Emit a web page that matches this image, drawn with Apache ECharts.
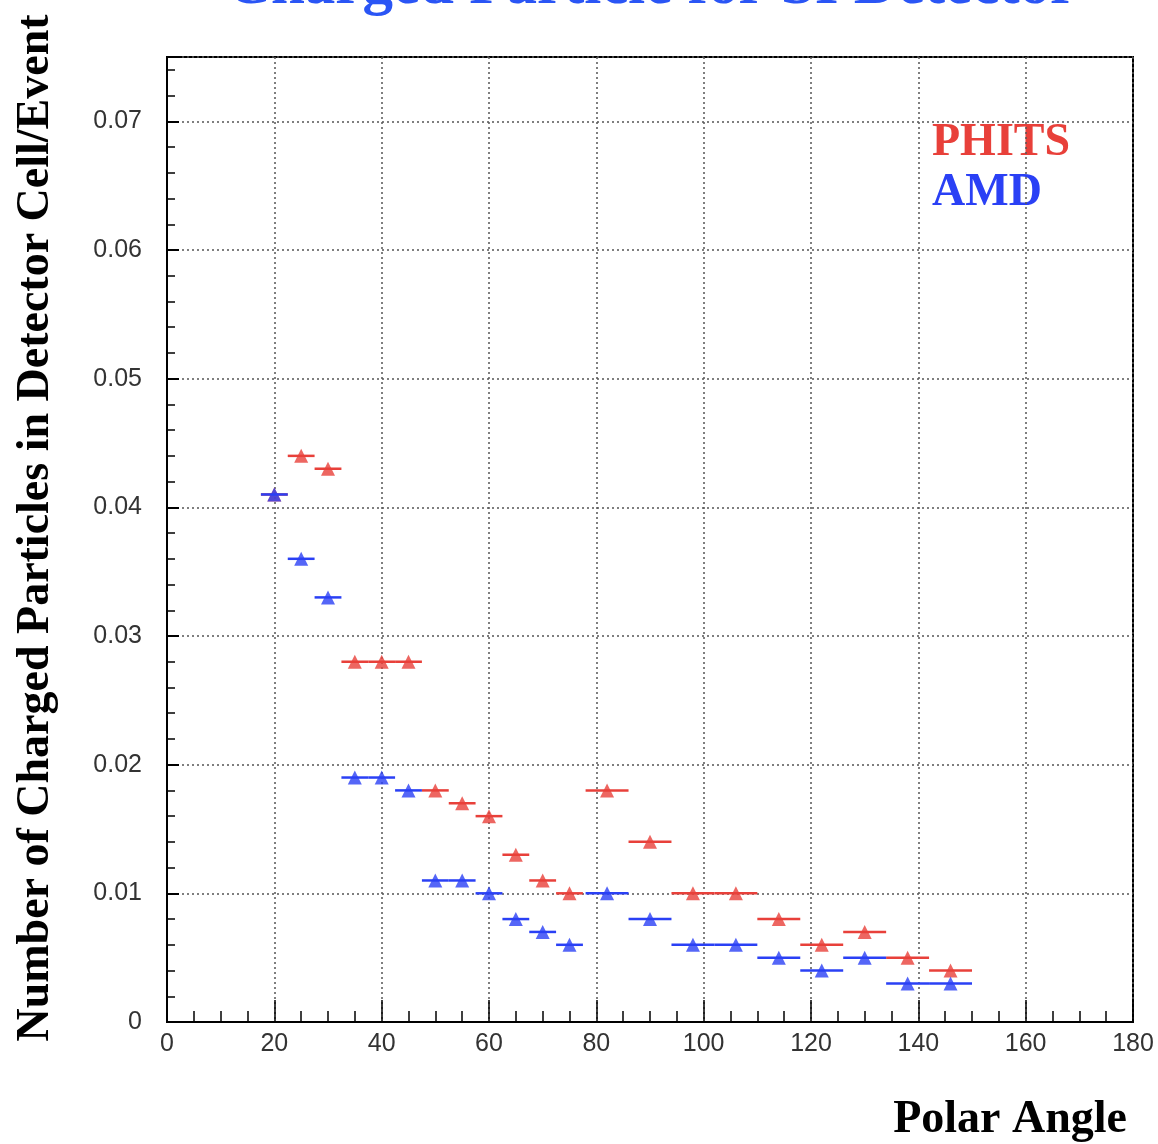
<!DOCTYPE html>
<html>
<head>
<meta charset="utf-8">
<script src="https://cdn.jsdelivr.net/npm/echarts@6/dist/echarts.min.js"></script>
<style>
  html, body { margin: 0; padding: 0; background: #fff; }
  #chart { width: 1158px; height: 1144px; }
</style>
</head>
<body>
<div id="chart"></div>
<script>
// polar angle bin centres and half widths
var angles = [20, 25, 30, 35, 40, 45, 50, 55, 60, 65, 70, 75, 82, 90, 98, 106, 114, 122, 130, 138, 146];
var halfWidths = [2.5, 2.5, 2.5, 2.5, 2.5, 2.5, 2.5, 2.5, 2.5, 2.5, 2.5, 2.5, 4, 4, 4, 4, 4, 4, 4, 4, 4];

// charged particles per cell per event
var phits = [0.041, 0.044, 0.043, 0.028, 0.028, 0.028, 0.018, 0.017, 0.016, 0.013, 0.011, 0.010,
             0.018, 0.014, 0.010, 0.010, 0.008, 0.006, 0.007, 0.005, 0.004];
var amd = [0.041, 0.036, 0.033, 0.019, 0.019, 0.018, 0.011, 0.011, 0.010, 0.008, 0.007, 0.006,
           0.010, 0.008, 0.006, 0.006, 0.005, 0.004, 0.005, 0.003, 0.003];

var xTicks = [0, 20, 40, 60, 80, 100, 120, 140, 160, 180];
var yTicks = [0, 0.01, 0.02, 0.03, 0.04, 0.05, 0.06, 0.07];

var red = '#e8403a';
var blue = '#2a40f5';
var serif = '"Liberation Serif", "DejaVu Serif", serif';
var sans = '"Liberation Sans", Arial, sans-serif';

var myChart = echarts.init(document.getElementById('chart'));

function pointsOf(values) {
    return angles.map(function (a, i) {
        return [a, values[i], halfWidths[i]];
    });
}

// horizontal bar for each bin
function binBars(color) {
    return function (params, api) {
        var x = api.value(0);
        var y = api.value(1);
        var hw = api.value(2);
        var p1 = api.coord([x - hw, y]);
        var p2 = api.coord([x + hw, y]);
        return {
            type: 'line',
            shape: { x1: p1[0], y1: p1[1], x2: p2[0], y2: p2[1] },
            style: { stroke: color, lineWidth: 2.5 }
        };
    };
}

var option = {
    animation: false,
    grid: {
        left: 167,
        right: 25,
        top: 57,
        bottom: 122,
        show: true,
        borderColor: '#000',
        borderWidth: 2
    },
    xAxis: {
        type: 'value',
        min: 0,
        max: 180,
        interval: 20,
        axisLine: { lineStyle: { color: '#000', width: 2 } },
        axisTick: { inside: true, length: 22, lineStyle: { color: '#000', width: 1.5 } },
        minorTick: { show: true, splitNumber: 4, length: 11, lineStyle: { color: '#000', width: 1.5 } },
        splitLine: { show: true, lineStyle: { color: '#555', type: [2, 3], width: 1.5 } },
        axisLabel: {
            margin: 10,
            fontFamily: sans,
            fontSize: 25,
            color: '#333',
            formatter: function (v) {
                return xTicks.indexOf(v) >= 0 ? String(v) : '';
            }
        }
    },
    yAxis: {
        type: 'value',
        min: 0,
        max: 0.075,
        interval: 0.01,
        axisLine: { lineStyle: { color: '#000', width: 2 } },
        axisTick: { inside: true, length: 12, lineStyle: { color: '#000', width: 2 } },
        minorTick: { show: true, splitNumber: 5, length: 8, lineStyle: { color: '#000', width: 1.5 } },
        splitLine: { show: true, lineStyle: { color: '#555', type: [2, 3], width: 1.5 } },
        axisLabel: {
            margin: 25,
            fontFamily: sans,
            fontSize: 25,
            color: '#333',
            showMaxLabel: false,
            formatter: function (v) {
                for (var i = 0; i < yTicks.length; i++) {
                    if (Math.abs(v - yTicks[i]) < 1e-6) {
                        return v === 0 ? '0' : yTicks[i].toFixed(2);
                    }
                }
                return '';
            }
        }
    },
    graphic: [
        {
            type: 'text',
            x: 652,
            y: 18,
            style: {
                text: 'Charged Particle for SI Detector',
                font: 'bold 61px ' + serif,
                fill: '#2a55f5',
                align: 'center',
                verticalAlign: 'bottom'
            }
        },
        {
            type: 'text',
            x: 36,
            y: 528,
            rotation: Math.PI / 2,
            style: {
                text: 'Number of Charged Particles in Detector Cell/Event',
                font: 'bold 46px ' + serif,
                fill: '#000',
                align: 'center',
                verticalAlign: 'middle'
            }
        },
        {
            type: 'text',
            x: 1127,
            y: 1120,
            style: {
                text: 'Polar Angle',
                font: 'bold 46px ' + serif,
                fill: '#000',
                align: 'right',
                verticalAlign: 'middle'
            }
        },
        {
            type: 'text',
            x: 932,
            y: 143,
            style: {
                text: 'PHITS',
                font: 'bold 46px ' + serif,
                fill: red,
                verticalAlign: 'middle'
            }
        },
        {
            type: 'text',
            x: 932,
            y: 193,
            style: {
                text: 'AMD',
                font: 'bold 46px ' + serif,
                fill: blue,
                verticalAlign: 'middle'
            }
        }
    ],
    series: [
        {
            name: 'PHITS bins',
            type: 'custom',
            renderItem: binBars(red),
            data: pointsOf(phits),
            z: 2
        },
        {
            name: 'PHITS',
            type: 'scatter',
            symbol: 'triangle',
            symbolSize: 14,
            itemStyle: { color: red },
            data: pointsOf(phits),
            z: 3
        },
        {
            name: 'AMD bins',
            type: 'custom',
            renderItem: binBars(blue),
            data: pointsOf(amd),
            z: 4
        },
        {
            name: 'AMD',
            type: 'scatter',
            symbol: 'triangle',
            symbolSize: 14,
            itemStyle: { color: blue },
            data: pointsOf(amd),
            z: 5
        }
    ]
};

myChart.setOption(option);
</script>
</body>
</html>
